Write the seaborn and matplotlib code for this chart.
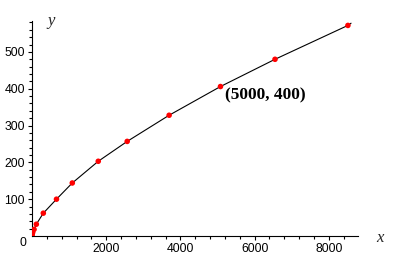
import matplotlib
matplotlib.use("Agg")
import matplotlib.pyplot as plt
import seaborn as sns
import pandas as pd

# data
x_vals = [0, 5, 20, 55, 117, 305, 660, 1086, 1786, 2566, 3696, 5080, 6550, 8515]
y_vals = [0, 4, 10, 18, 32, 62, 100, 144, 203, 257, 328, 406, 480, 572]
curve_end_x = [8600]
curve_end_y = [578]
x_ticks = [2000, 4000, 6000, 8000]
y_ticks = [100, 200, 300, 400, 500]
note_text = "(5000, 400)"
note_xy = (5080, 406)

sns.set_theme(style="white")
plt.rcParams['font.family'] = ['Liberation Sans', 'DejaVu Sans']

df = pd.DataFrame({"x": x_vals, "y": y_vals})
curve = pd.DataFrame({"x": x_vals + curve_end_x, "y": y_vals + curve_end_y})

fig = plt.figure(figsize=(3.98, 2.59), dpi=100)
ax = fig.add_axes([32/398, 1 - 236/259, (358 - 32)/398, (236 - 21)/259])

sns.lineplot(data=curve, x="x", y="y", ax=ax, color="black", linewidth=0.8,
             sort=False, estimator=None)
sns.scatterplot(data=df, x="x", y="y", ax=ax, color="#ff0000", s=16,
                edgecolor="none", zorder=3)

ax.set_xlim(0, 8787)
ax.set_ylim(0, 584)
for side in ["top", "right"]:
    ax.spines[side].set_visible(False)
for side in ["left", "bottom"]:
    ax.spines[side].set_color("black")
    ax.spines[side].set_linewidth(0.8)

ax.set_xticks(x_ticks)
ax.set_yticks(y_ticks)
ax.set_xticks([v for v in range(400, 8787, 400) if v not in x_ticks], minor=True)
ax.set_yticks([v for v in range(20, 584, 20) if v not in y_ticks], minor=True)
ax.tick_params(axis="both", which="major", direction="out", length=3.2, width=0.8,
               color="black", labelsize=8.8, labelcolor="black", pad=2,
               bottom=True, left=True)
ax.tick_params(axis="both", which="minor", direction="out", length=2, width=0.8,
               color="black", bottom=True, left=True)
ax.set_xlabel("")
ax.set_ylabel("")
ax.grid(False)

ax.annotate("0", xy=(0, 0), xytext=(-9.5, -7), textcoords="offset pixels",
            ha="center", va="center", fontsize=8.8, color="black")
ax.text(47/398, 1 - 21/259, "y", transform=fig.transFigure, fontsize=12,
        family="Liberation Serif", style="italic", ha="left", va="center")
ax.text(376/398, 1 - 238/259, "x", transform=fig.transFigure, fontsize=12,
        family="Liberation Serif", style="italic", ha="left", va="center")
ax.annotate(note_text, xy=note_xy, xytext=(5, -9), textcoords="offset pixels",
            ha="left", va="center", fontsize=12.5, family="Liberation Serif",
            fontweight="bold", color="black")

fig.savefig("out.png", dpi=100)
